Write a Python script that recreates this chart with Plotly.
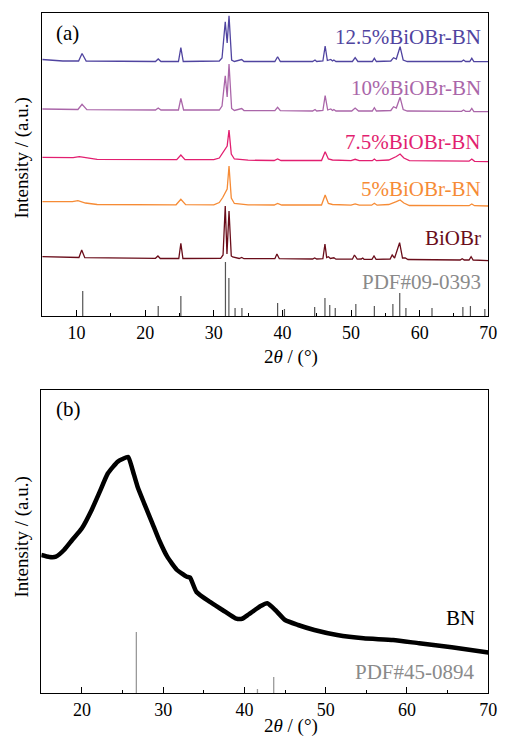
import plotly.graph_objects as go

W, H = 512, 744

# ---------------- panel (a) data: 2theta (deg) and intensity (a.u., stacked offsets) ----------------
s125_x = [5, 8, 10.3, 10.8, 11.4, 21.5, 21.9, 22.3, 24.85, 25.2, 25.55, 30.8, 31.2, 31.67, 31.95, 32.22, 32.6,
          33.0, 34.07, 34.4, 38.9, 39.3, 39.7, 44.4, 44.75, 45.0, 45.9, 46.23, 46.55, 47.05, 47.3, 47.5, 47.8,
          50.2, 50.6, 51.0, 53.1, 53.4, 53.7, 55.8, 56.2, 56.6, 57.15, 57.6, 58.2, 66.1, 66.4, 66.7, 67.3, 67.6,
          67.9, 70]
s125_y = [256.5, 255, 255, 262.5, 255, 254.5, 257, 254.5, 254.5, 268.3, 254.5, 255, 258, 294.3, 273, 300.3, 256,
          254.5, 256.5, 254.5, 254.5, 259.3, 254.5, 254.5, 256, 254.5, 255, 270, 255.5, 256.5, 255, 256, 254.5,
          254.5, 258.3, 254.5, 254.5, 257.7, 254.5, 255, 258.3, 257, 269.3, 256, 254.5, 254.5, 256, 254.5, 254.5,
          257.7, 254.5, 254.3]

s10_x = [5, 8, 10.2, 10.8, 11.5, 21.5, 21.9, 22.3, 24.85, 25.2, 25.6, 30.8, 31.2, 31.67, 31.95, 32.22, 32.6,
         33.0, 34.07, 34.4, 38.9, 39.3, 39.7, 44.4, 44.75, 45.0, 45.9, 46.23, 46.6, 47.05, 47.3, 47.5, 47.8,
         50.1, 50.6, 51.1, 53.1, 53.4, 53.7, 55.8, 56.2, 56.6, 57.15, 57.6, 58.2, 66.1, 66.4, 66.7, 67.3, 67.6,
         67.9, 70]
s10_y = [207, 206.5, 206.5, 211.7, 206.3, 206, 208, 206, 206, 217.7, 206, 206, 210, 240.3, 219, 252, 207.5,
         205.5, 207.5, 205.5, 205.3, 208.7, 205.3, 205, 206.5, 205, 205.5, 220.3, 206, 207, 205.5, 206.5, 205,
         205, 208, 205, 205, 208.3, 205, 205.5, 209.3, 208, 218.7, 206.5, 205, 204.7, 206, 204.7, 204.7,
         207.7, 204.5, 204.3]

s75_x = [5, 8, 9.5, 10.4, 11.5, 13, 24.6, 25.2, 25.8, 30.0, 30.8, 31.3, 31.7, 31.95, 32.22, 32.55, 33.0, 34.1,
         35, 38.8, 39.3, 39.8, 45.7, 46.23, 46.7, 47.3, 50.0, 50.6, 51.2, 53.1, 53.4, 53.7, 55.5, 56.6, 57.15,
         57.7, 58.5, 67.2, 67.6, 68.0, 70]
s75_y = [158.7, 158, 158.3, 159.3, 158, 156.7, 156.3, 161, 156.3, 156.3, 158, 163, 167.7, 170, 186, 162, 157,
         156.5, 155.8, 155.5, 157, 155.5, 155.5, 164.3, 157, 156, 155.3, 156.7, 155.3, 155.3, 157, 155.3, 156,
         159.5, 162, 158, 155.3, 154.8, 157, 154.7, 154.3]

s5_x = [5, 8, 9.4, 10.2, 11.3, 13, 24.5, 25.2, 25.9, 30.0, 30.8, 31.3, 31.7, 31.95, 32.22, 32.55, 33.0, 34.1,
        35, 38.8, 39.3, 39.9, 45.7, 46.23, 46.7, 47.3, 50.0, 50.6, 51.2, 53.0, 53.4, 53.8, 55.5, 56.6, 57.15,
        57.7, 58.5, 67.2, 67.6, 68.0, 70]
s5_y = [114.3, 113.8, 114.3, 115.3, 113, 111.5, 111.2, 116.7, 111.3, 111.2, 113.5, 118.5, 124.3, 127, 150, 118,
        112.5, 112, 111.2, 111, 112.5, 111, 111, 121, 112.5, 111.5, 110.8, 112, 110.8, 110.8, 112.7, 110.8, 111.5,
        114.3, 116, 113, 110.5, 110.3, 112, 110.3, 110]

biobr_x = [5, 8, 10.35, 10.75, 11.2, 21.5, 21.86, 22.2, 24.9, 25.2, 25.5, 31.0, 31.35, 31.67, 31.92, 32.22,
           32.55, 32.75, 33.0, 33.7, 34.07, 34.4, 38.9, 39.2, 39.55, 44.4, 44.7, 45.0, 45.9, 46.2, 46.45, 46.7,
           47.0, 47.5, 47.8, 50.2, 50.5, 50.9, 51.5, 51.7, 51.9, 53.05, 53.35, 53.65, 55.7, 56.0, 56.35, 57.08,
           57.5, 57.9, 58.3, 65.9, 66.2, 66.5, 67.2, 67.5, 67.8, 70]
biobr_y = [59.3, 58.5, 58.5, 66, 58.3, 57.7, 60, 57.5, 57.5, 72.7, 57.5, 57.7, 61, 110, 62, 105, 60, 59, 58.5,
           57.5, 58.5, 57.3, 57.3, 62, 57.3, 57, 58, 57, 57.3, 72, 58.5, 59.3, 57.5, 58.2, 56.8, 56.8, 61, 56.8,
           57, 58, 56.7, 56.7, 60, 56.7, 57, 61, 58, 73.3, 58, 58, 56.5, 56, 57.3, 56, 56, 59.3, 56, 55.3]

# PDF#09-0393 reference sticks (BiOBr)
pdf1_pos = [10.9, 21.9, 25.2, 31.7, 32.2, 33.1, 34.1, 39.3, 40.3, 44.7, 46.2, 46.9, 47.7, 50.7, 53.4, 56.1,
            57.1, 58.0, 61.8, 66.3, 67.4, 69.5]
pdf1_int = [25, 10, 20, 54, 38, 8, 8, 13, 7, 9, 18, 11, 8, 12, 10, 12, 23, 8, 8, 9, 10, 7]

# ---------------- panel (b) data: BN ----------------
bn_x = [15, 16.0, 16.8, 17.8, 18.8, 20.0, 21.2, 22.2, 23.2, 24.4, 25.0, 25.7, 26.2, 26.85, 27.66, 28.67, 29.5,
        30.5, 31.7, 32.9, 33.3, 34.1, 35.7, 37.3, 38.9, 39.7, 40.5, 41.36, 42.0, 42.8, 43.8, 45.0, 46.6, 48.6,
        51.4, 54.65, 58.3, 61.5, 65.5, 70]
bn_y = [138, 136, 136.3, 143, 153, 164.7, 183, 201.3, 219.7, 231.3, 234, 236, 224, 206.3, 189.7, 169.7, 153,
        136.3, 123, 116.3, 115.5, 101, 91.3, 83, 74.7, 74.2, 78.5, 83.5, 87, 89.7, 83, 73, 68, 63, 58, 54.7,
        53, 49.7, 45.7, 40.5]

# PDF#45-0894 reference sticks (BN)
pdf2_pos = [26.7, 41.6, 43.6]
pdf2_int = [61, 4, 16]

labels_a = ["12.5%BiOBr-BN", "10%BiOBr-BN", "7.5%BiOBr-BN", "5%BiOBr-BN", "BiOBr"]
colors_a = ["#5044a0", "#aa66a9", "#e21f70", "#f68b35", "#6a0d1a"]
label_y_px = [37, 88, 142, 189.5, 237.5]

FONT = "Liberation Serif, Times New Roman, serif"


def sticks(pos, inten):
    xs, ys = [], []
    for p, h in zip(pos, inten):
        xs += [p, p, None]
        ys += [0, h, None]
    return xs, ys


fig = go.Figure()

series = [(s125_x, s125_y), (s10_x, s10_y), (s75_x, s75_y), (s5_x, s5_y), (biobr_x, biobr_y)]
for (sx, sy), c in zip(series, colors_a):
    fig.add_trace(go.Scatter(x=sx, y=sy, mode="lines", line=dict(color=c, width=1.3),
                             xaxis="x", yaxis="y", showlegend=False, hoverinfo="skip"))

sx, sy = sticks(pdf1_pos, pdf1_int)
fig.add_trace(go.Scatter(x=sx, y=sy, mode="lines", line=dict(color="#555555", width=1.2),
                         xaxis="x", yaxis="y", showlegend=False, hoverinfo="skip"))

fig.add_trace(go.Scatter(x=bn_x, y=bn_y, mode="lines", line=dict(color="black", width=4.5, shape="spline",
                                                                  smoothing=0.5),
                         xaxis="x2", yaxis="y2", showlegend=False, hoverinfo="skip"))
sx, sy = sticks(pdf2_pos, pdf2_int)
fig.add_trace(go.Scatter(x=sx, y=sy, mode="lines", line=dict(color="#9a9a9a", width=1.3),
                         xaxis="x2", yaxis="y2", showlegend=False, hoverinfo="skip"))


def px(x):
    return x / W


def py(y):
    return 1 - y / H


xdom = [px(43), px(497)]
xdom2 = [px(42), px(497)]
common_x = dict(showline=True, linecolor="black", linewidth=1.2, mirror=True, ticks="inside", ticklen=6,
                tickwidth=1, tickcolor="black", showgrid=False, zeroline=False, ticklabeloverflow="allow",
                tickfont=dict(family=FONT, size=18, color="black"),
                minor=dict(ticks="inside", ticklen=3, dtick=5, tickcolor="black", showgrid=False))
common_y = dict(showline=True, linecolor="black", linewidth=1.2, mirror=True, ticks="", showticklabels=False,
                showgrid=False, zeroline=False, range=[0, 303])

fig.update_layout(
    width=W, height=H, autosize=False, margin=dict(l=0, r=0, t=0, b=0),
    paper_bgcolor="white", plot_bgcolor="white",
    xaxis=dict(domain=xdom, range=[5, 70], dtick=10, tick0=0, anchor="y", **common_x),
    yaxis=dict(domain=[py(316), py(13)], anchor="x", **common_y),
    xaxis2=dict(domain=xdom2, range=[15, 70], dtick=10, tick0=0, anchor="y2", **common_x),
    yaxis2=dict(domain=[py(693), py(390)], anchor="x2", **common_y),
)

ann = []
for t, c, yy in zip(labels_a, colors_a, label_y_px):
    ann.append(dict(text=t, x=px(492), y=py(yy), xref="paper", yref="paper", xanchor="right",
                    yanchor="middle", showarrow=False, font=dict(family=FONT, size=21, color=c)))
ann.append(dict(text="PDF#09-0393", x=px(492), y=py(282), xref="paper", yref="paper", xanchor="right",
                yanchor="middle", showarrow=False, font=dict(family=FONT, size=21, color="#8a8a8a")))
ann.append(dict(text="(a)", x=px(55), y=py(33), xref="paper", yref="paper", xanchor="left",
                yanchor="middle", showarrow=False, font=dict(family=FONT, size=21, color="black")))
ann.append(dict(text="(b)", x=px(55), y=py(409), xref="paper", yref="paper", xanchor="left",
                yanchor="middle", showarrow=False, font=dict(family=FONT, size=21, color="black")))
ann.append(dict(text="BN", x=px(486), y=py(618), xref="paper", yref="paper", xanchor="right",
                yanchor="middle", showarrow=False, font=dict(family=FONT, size=21, color="black")))
ann.append(dict(text="PDF#45-0894", x=px(486), y=py(672), xref="paper", yref="paper", xanchor="right",
                yanchor="middle", showarrow=False, font=dict(family=FONT, size=21, color="#8a8a8a")))
for cy in [158, 537]:
    ann.append(dict(text="Intensity / (a.u.)", x=px(22), y=py(cy), xref="paper", yref="paper",
                    xanchor="center", yanchor="middle", textangle=-90, showarrow=False,
                    font=dict(family=FONT, size=19, color="black")))
for cy in [357, 726]:
    ann.append(dict(text="2<i>θ</i> / (°)", x=px(296), y=py(cy), xref="paper", yref="paper",
                    xanchor="center", yanchor="middle", showarrow=False,
                    font=dict(family=FONT, size=19, color="black")))
fig.update_layout(annotations=ann)

# remove the browser's default 8px body margin so the 512x744 figure fills the window exactly
fig.write_html("out.html", config={"displayModeBar": False},
               post_script="document.body.style.margin='0px';document.body.style.overflow='hidden';")
